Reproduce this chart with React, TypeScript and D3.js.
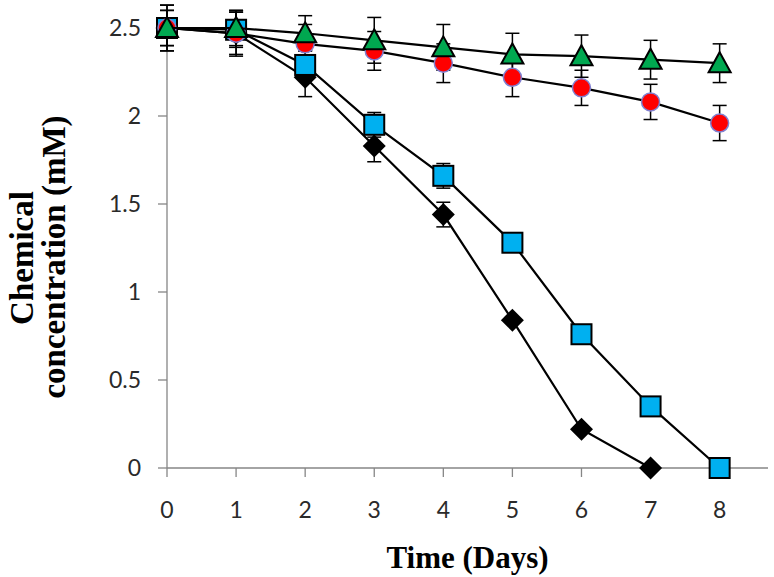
import React from 'react'
import * as d3 from 'd3'

const days = [0, 1, 2, 3, 4, 5, 6, 7, 8]
const yTicks = [0, 0.5, 1, 1.5, 2, 2.5]

// values per series (mM), NaN where no point
const diamondVals = [2.5, 2.47, 2.22, 1.83, 1.44, 0.84, 0.22, 0, NaN]
const diamondErr = [0.13, 0.13, 0.11, 0.09, 0.07, 0, 0, 0, 0]
const squareVals = [2.5, 2.49, 2.29, 1.95, 1.66, 1.28, 0.76, 0.35, 0]
const squareErr = [0.1, 0.1, 0.08, 0.07, 0.07, 0, 0, 0, 0]
const circleVals = [2.5, 2.47, 2.41, 2.37, 2.3, 2.22, 2.16, 2.08, 1.96]
const circleErr = [0.13, 0.12, 0.11, 0.11, 0.11, 0.11, 0.1, 0.1, 0.1]
const triangleVals = [2.5, 2.5, 2.47, 2.43, 2.39, 2.35, 2.34, 2.32, 2.3]
const triangleErr = [0.1, 0.1, 0.1, 0.13, 0.13, 0.12, 0.12, 0.11, 0.11]

const width = 774
const height = 577
const xMax = 8.7

export default function App () {
  const xScale = d3.scaleLinear().domain([0, xMax]).range([167, 768])
  const yScale = d3.scaleLinear().domain([0, 2.5]).range([468, 28])

  const series = [
    { vals: diamondVals, err: diamondErr, shape: 'diamond' },
    { vals: squareVals, err: squareErr, shape: 'square' },
    { vals: circleVals, err: circleErr, shape: 'circle' },
    { vals: triangleVals, err: triangleErr, shape: 'triangle' }
  ]

  const line = d3.line<number>()
    .defined(v => !isNaN(v))
    .x((v, i) => xScale(days[i]))
    .y(v => yScale(v))

  const marker = (shape: string, cx: number, cy: number, key: number) => {
    if (shape === 'diamond') {
      const r = 11.5
      return <path key={key} d={`M${cx},${cy - r}L${cx + r},${cy}L${cx},${cy + r}L${cx - r},${cy}Z`} fill='#000' />
    }
    if (shape === 'square') {
      return <rect key={key} x={cx - 10} y={cy - 10} width={20} height={20} fill='#00B0F0' stroke='#000' strokeWidth={2} />
    }
    if (shape === 'circle') {
      return <circle key={key} cx={cx} cy={cy} r={9} fill='#FF0000' stroke='#8080D0' strokeWidth={1.5} />
    }
    return <path key={key} d={`M${cx},${cy - 11}L${cx + 11},${cy + 9}L${cx - 11},${cy + 9}Z`} fill='#00A850' stroke='#000' strokeWidth={2} strokeLinejoin='miter' />
  }

  const sans = 'Lato, "Open Sans", sans-serif'
  const serif = '"Liberation Serif", "Times New Roman", serif'

  return <svg width={width} height={height} style={{ position: 'absolute', left: 0, top: 0, background: '#fff' }}>
    {/* axes */}
    <g stroke='#868686' strokeWidth={1.3}>
      <line x1={xScale(0)} y1={yScale(0)} x2={xScale(0)} y2={yScale(2.5)} />
      <line x1={xScale(0)} y1={yScale(0)} x2={xScale(xMax)} y2={yScale(0)} />
      {yTicks.map((v, i) => <line key={'yt' + i} x1={xScale(0) - 9} x2={xScale(0)} y1={yScale(v)} y2={yScale(v)} />)}
      {days.map((v, i) => <line key={'xt' + i} x1={xScale(v)} x2={xScale(v)} y1={yScale(0)} y2={yScale(0) + 9} />)}
    </g>
    <g fontFamily={sans} fontSize={23} fill='#2a2a2a'>
      {yTicks.map((v, i) => <text key={'yl' + i} x={141} y={yScale(v)} dy='0.36em' textAnchor='end'>{v}</text>)}
      {days.map((v, i) => <text key={'xl' + i} x={xScale(v)} y={518} textAnchor='middle'>{v}</text>)}
    </g>
    {/* error bars */}
    <g stroke='#000' strokeWidth={1.5}>
      {series.map((s, si) => s.vals.map((v, i) => {
        if (isNaN(v) || !s.err[i]) return null
        const cx = xScale(days[i])
        const y1 = yScale(v + s.err[i])
        const y2 = yScale(Math.max(0, v - s.err[i]))
        return <g key={si + '-' + i}>
          <line x1={cx} x2={cx} y1={y1} y2={y2} />
          <line x1={cx - 7} x2={cx + 7} y1={y1} y2={y1} />
          <line x1={cx - 7} x2={cx + 7} y1={y2} y2={y2} />
        </g>
      }))}
    </g>
    {/* lines + markers */}
    {series.map((s, si) => <g key={'s' + si}>
      <path d={line(s.vals) || ''} fill='none' stroke='#000' strokeWidth={2.2} />
      {s.vals.map((v, i) => isNaN(v) ? null : marker(s.shape, xScale(days[i]), yScale(v), i))}
    </g>)}
    {/* titles */}
    <text x={(xScale(0) + xScale(xMax)) / 2} y={568} textAnchor='middle' fontFamily={serif} fontWeight='bold' fontSize={31} fill='#000'>Time (Days)</text>
    <g fontFamily={serif} fontWeight='bold' fontSize={33} fill='#000' textAnchor='middle'>
      <text transform='translate(33,258) rotate(-90)'>Chemical</text>
      <text transform='translate(65,257) rotate(-90)'>concentration (mM)</text>
    </g>
  </svg>
}
